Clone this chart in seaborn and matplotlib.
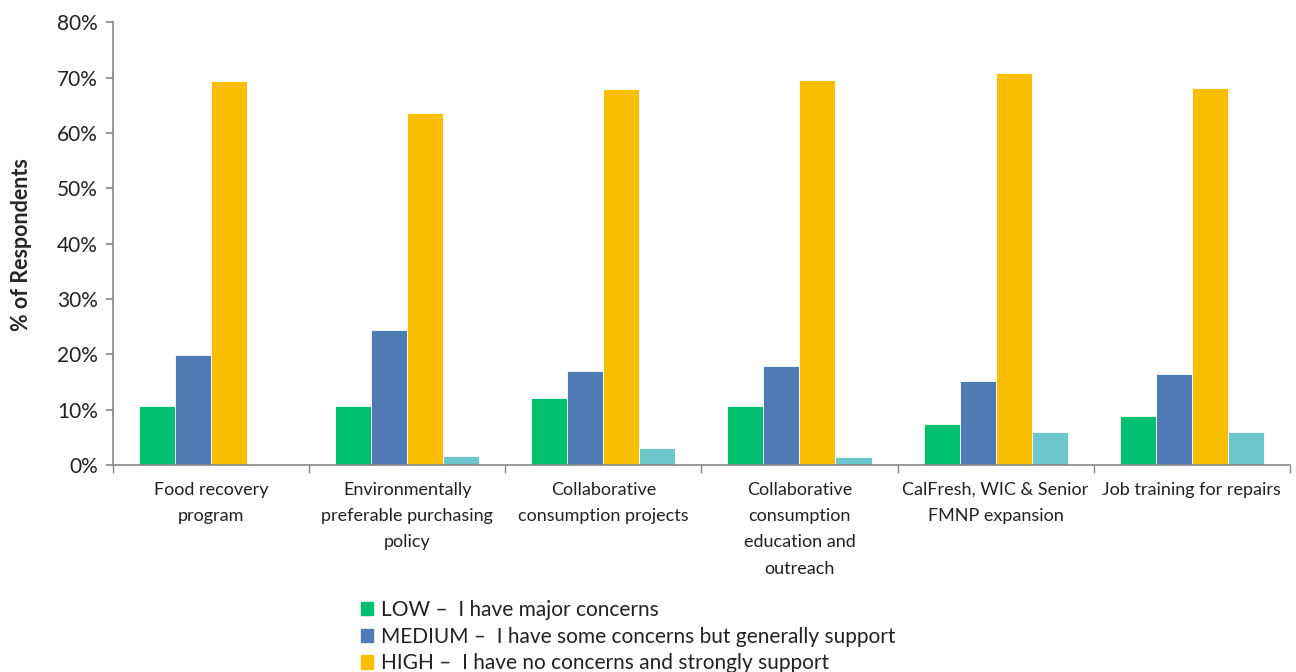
import pandas as pd
import matplotlib.pyplot as plt
import matplotlib.patches as mpatches
from matplotlib.ticker import PercentFormatter, FixedLocator
import seaborn as sns

sns.set_theme(style="white")
plt.rcParams["font.family"] = ["Lato", "DejaVu Sans"]

# Dados (% de respondentes)
programs = [
    "Food recovery\nprogram",
    "Environmentally\npreferable purchasing\npolicy",
    "Collaborative\nconsumption projects",
    "Collaborative\nconsumption\neducation and\noutreach",
    "CalFresh, WIC & Senior\nFMNP expansion",
    "Job training for repairs",
]
levels = [
    "LOW \u2013  I have major concerns",
    "MEDIUM \u2013  I have some concerns but generally support",
    "HIGH \u2013  I have no concerns and strongly support",
    "N/A",
]
low = [10.6, 10.6, 12.1, 10.6, 7.4, 8.8]
medium = [19.8, 24.4, 17.0, 17.9, 15.1, 16.5]
high = [69.3, 63.6, 67.9, 69.5, 70.9, 68.1]
other = [0.0, 1.6, 3.0, 1.5, 6.0, 6.0]
colors = ["#00BF6F", "#4F7BB5", "#F8BE00", "#6CC8CC"]

rows = []
for lvl, vals in zip(levels, [low, medium, high, other]):
    for prog, v in zip(programs, vals):
        rows.append({"program": prog, "level": lvl, "value": v})
df = pd.DataFrame(rows)

fig = plt.figure(figsize=(12.96, 6.72), dpi=100)
ax = fig.add_axes([0.0872, 0.308, 0.908, 0.659])

sns.barplot(data=df, x="program", y="value", hue="level", hue_order=levels,
            palette=colors, saturation=1, width=0.735, errorbar=None,
            edgecolor="white", linewidth=0.6, ax=ax)

ax.set_ylim(0, 80)
ax.set_xlim(-0.5, len(programs) - 0.5)
ax.yaxis.set_major_formatter(PercentFormatter(decimals=0))
ax.set_yticks(range(0, 81, 10))
ax.tick_params(axis="y", labelsize=15, colors="#222222", length=5,
               color="#888888", left=True, pad=6)
ax.set_xticks(range(len(programs)))
# o espaçamento entre linhas é relativo à altura da fonte (Lato)
ax.set_xticklabels(programs, linespacing=1.8)
ax.tick_params(axis="x", which="major", length=0, labelsize=13,
               labelcolor="#222222", pad=12)
ax.xaxis.set_minor_locator(FixedLocator([i - 0.5 for i in range(len(programs) + 1)]))
ax.tick_params(axis="x", which="minor", length=6, color="#888888", bottom=True)

for side in ["top", "right"]:
    ax.spines[side].set_visible(False)
for side in ["left", "bottom"]:
    ax.spines[side].set_color("#888888")
    ax.spines[side].set_linewidth(1.2)

ax.set_xlabel("")
ax.set_ylabel("% of Respondents", fontsize=15.5, fontweight="bold")
ax.yaxis.set_label_coords(-0.069, 0.497)

ax.get_legend().remove()
handles = [mpatches.Patch(color=c, label=l) for c, l in zip(colors[:3], levels[:3])]
fig.legend(handles=handles, loc="upper left", bbox_to_anchor=(0.272, 0.12),
           frameon=False, fontsize=15, handlelength=0.6, handleheight=0.6,
           handletextpad=0.35, labelspacing=0.33, borderaxespad=0,
           labelcolor="#222222")

plt.savefig("out.png", dpi=100)
